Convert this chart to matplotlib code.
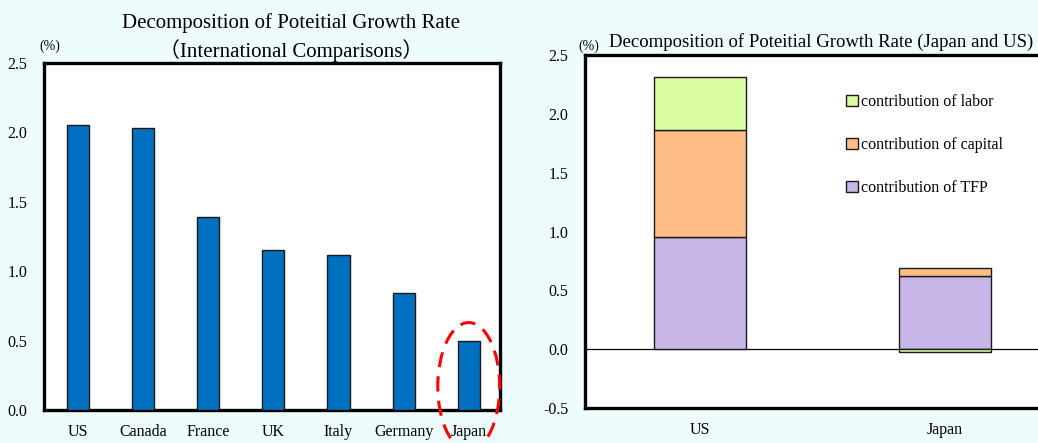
import matplotlib.pyplot as plt
import numpy as np
from matplotlib.patches import Ellipse

plt.rcParams["font.family"] = ["Liberation Serif", "Noto Sans CJK JP", "DejaVu Serif"]

# potential growth rate by country (%)
countries = ["US", "Canada", "France", "UK", "Italy", "Germany", "Japan"]
growth = [2.05, 2.03, 1.39, 1.15, 1.12, 0.84, 0.50]

# decomposition for Japan and US (%)
pair = ["US", "Japan"]
tfp = [0.95, 0.62]
capital = [0.91, 0.07]
labor = [0.45, -0.02]

BG = "#eefcfd"
fig = plt.figure(figsize=(10.38, 4.43), dpi=100, facecolor=BG)


def frame(ax, lw=2.4):
    for s in ax.spines.values():
        s.set_linewidth(lw)
        s.set_color("black")
    ax.tick_params(length=0, labelsize=11.5)


# left: international comparison
ax1 = fig.add_axes([0.0424, 0.0745, 0.4393, 0.7833])
x = np.arange(len(countries))
ax1.bar(x, growth, width=0.34, color="#0070c0", edgecolor="#1a1a1a", linewidth=1.0, zorder=3)
ax1.set_xlim(-0.52, 6.48)
ax1.set_ylim(0, 2.5)
ax1.set_yticks(np.arange(0, 2.51, 0.5))
ax1.set_yticklabels([f"{v:.1f}" for v in np.arange(0, 2.51, 0.5)])
ax1.set_xticks(x)
ax1.set_xticklabels(countries)
frame(ax1)
ax1.tick_params(axis="y", pad=12)
ax1.tick_params(axis="x", pad=10)
ax1.text(-0.01, 1.03, "(%)", transform=ax1.transAxes, fontsize=10, ha="left", va="bottom")
fig.text(0.28, 0.947, "Decomposition of Poteitial Growth Rate", fontsize=15, ha="center", va="center")
fig.text(0.28, 0.885, "（International Comparisons）", fontsize=15, ha="center", va="center")

# dashed ring around Japan
ring = Ellipse((6.0, 0.17), 0.95, 0.92, fill=False, edgecolor="#ff0000", linewidth=2.2,
               linestyle=(0, (5, 3)), clip_on=False, zorder=5)
ax1.add_patch(ring)

# right: stacked decomposition
ax2 = fig.add_axes([0.5636, 0.079, 0.4576, 0.7968])
xp = np.arange(len(pair))
w = 0.375
ek = dict(edgecolor="#1a1a1a", linewidth=1.0, width=w, zorder=3)
ax2.bar(xp, tfp, color="#c9b6e8", label="contribution of TFP", **ek)
ax2.bar(xp, capital, bottom=tfp, color="#ffbe86", label="contribution of capital", **ek)
labor_bottom = [t + c if l >= 0 else 0 for t, c, l in zip(tfp, capital, labor)]
ax2.bar(xp, labor, bottom=labor_bottom, color="#dafca0", label="contribution of labor", **ek)
ax2.axhline(0, color="black", linewidth=0.9, zorder=2)
ax2.set_xlim(-0.469, 1.469)
ax2.set_ylim(-0.5, 2.5)
ax2.set_yticks(np.arange(-0.5, 2.51, 0.5))
ax2.set_yticklabels([f"{v:.1f}" for v in np.arange(-0.5, 2.51, 0.5)])
ax2.set_xticks(xp)
ax2.set_xticklabels(pair)
frame(ax2)
ax2.tick_params(axis="y", pad=12)
ax2.tick_params(axis="x", pad=10)
ax2.text(-0.015, 1.005, "(%)", transform=ax2.transAxes, fontsize=10, ha="left", va="bottom")
ax2.text(0.05, 1.01, "Decomposition of Poteitial Growth Rate (Japan and US)", transform=ax2.transAxes,
         fontsize=13.5, ha="left", va="bottom")

handles, labels = ax2.get_legend_handles_labels()
leg = ax2.legend(handles[::-1], labels[::-1], loc="upper left", bbox_to_anchor=(0.52, 0.93),
                 frameon=False, fontsize=11.5, handlelength=0.7, handleheight=0.7,
                 handletextpad=0.2, labelspacing=1.7)

fig.savefig("out.png", dpi=100, facecolor=BG)
